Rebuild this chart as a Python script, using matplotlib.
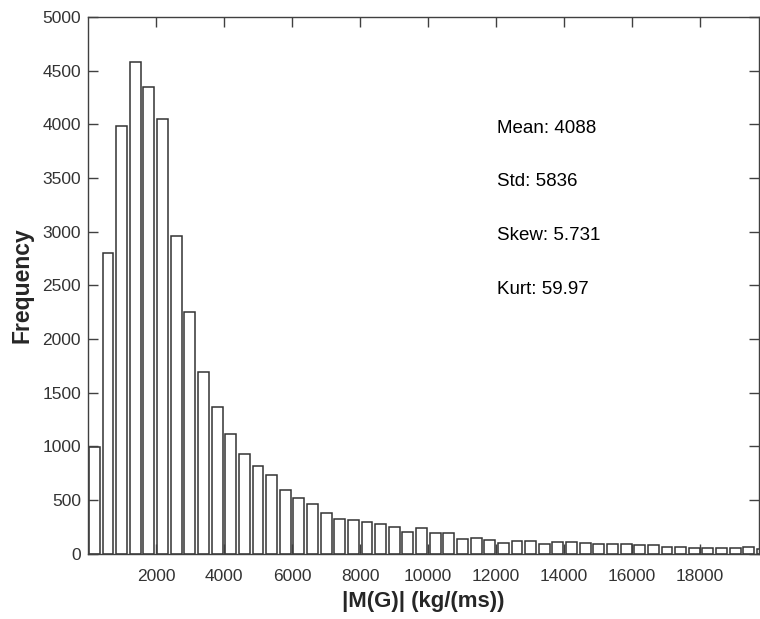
import numpy as np
import matplotlib
matplotlib.use('Agg')
import matplotlib.pyplot as plt

plt.rcParams['font.family'] = ['Liberation Sans', 'DejaVu Sans']

# histogram counts, one per bin
counts = [990, 2800, 3980, 4580, 4350, 4050, 2960, 2255, 1690, 1365,
          1110, 930, 820, 730, 595, 515, 460, 375, 325, 310,
          295, 275, 250, 205, 240, 195, 195, 135, 140, 130,
          100, 115, 115, 85, 105, 110, 100, 85, 85, 85,
          78, 78, 65, 58, 52, 50, 50, 50, 58, 45]
first_center = 187
bin_width = 401
centers = first_center + bin_width * np.arange(len(counts))

stats = ['Mean: 4088', 'Std: 5836', 'Skew: 5.731', 'Kurt: 59.97']
xticks = list(range(2000, 20000, 2000))
yticks = list(range(0, 5001, 500))

fig = plt.figure(figsize=(7.6, 6.19), dpi=100)
ax = fig.add_axes([88 / 760, 65.5 / 619, 671 / 760, 536.5 / 619])

ax.bar(centers, counts, width=0.8 * bin_width, facecolor='white',
       edgecolor='#333333', linewidth=1.1)

ax.set_xlim(0, 19735)
ax.set_ylim(0, 5000)
ax.set_xticks(xticks)
ax.set_yticks(yticks)

grey = '#262626'
for s in ax.spines.values():
    s.set_color('#404040')
    s.set_linewidth(1.0)
ax.tick_params(direction='in', top=True, right=True, length=7, width=1.0,
               color='#404040', labelcolor='#333333', labelsize=12.5)
ax.tick_params(axis='x', pad=11)
ax.tick_params(axis='y', pad=5)

ax.set_xlabel('|M(G)| (kg/(ms))', fontsize=16, fontweight='bold', color=grey, labelpad=5)
ax.set_ylabel('Frequency', fontsize=16.5, fontweight='bold', color=grey, labelpad=6)

ys = [0.793, 0.6925, 0.592, 0.493]
for txt, y in zip(stats, ys):
    ax.text(0.6095, y, txt, transform=ax.transAxes, fontsize=13.5,
            color='black', va='center', ha='left')

fig.savefig('out.png', dpi=100)
